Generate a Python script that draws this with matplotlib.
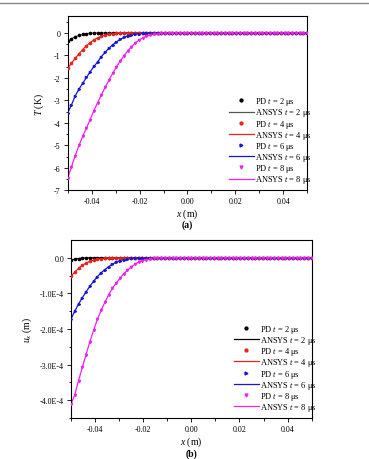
import numpy as np
import matplotlib.pyplot as plt
from matplotlib.lines import Line2D

plt.rcParams['font.family'] = ['Liberation Serif', 'DejaVu Serif']
plt.rcParams['mathtext.fontset'] = 'custom'
plt.rcParams['mathtext.it'] = 'Liberation Serif:italic'
plt.rcParams['mathtext.rm'] = 'Liberation Serif'
plt.rcParams['axes.unicode_minus'] = False

# grid of PD nodes along x (m)
n_pts = 65
x = np.linspace(-0.05, 0.05, n_pts)

# temperature T (K); the rest of each series is 0
T_2us = [-0.38, -0.26, -0.17, -0.11, -0.06, -0.035, -0.018, -0.008, -0.003]
T_4us = [-1.55, -1.35, -1.13, -0.93, -0.74, -0.57, -0.43, -0.31, -0.22, -0.15,
         -0.10, -0.06, -0.035, -0.02, -0.01]
T_6us = [-3.55, -3.2, -2.8, -2.5, -2.24, -1.98, -1.73, -1.49, -1.29, -1.05,
         -0.86, -0.68, -0.53, -0.40, -0.29, -0.20, -0.13, -0.08, -0.05, -0.03, -0.01]
T_8us = [-6.45, -5.95, -5.45, -5.0, -4.6, -4.22, -3.85, -3.45, -3.1, -2.75,
         -2.42, -2.1, -1.8, -1.52, -1.26, -1.02, -0.81, -0.62, -0.46, -0.33,
         -0.23, -0.15, -0.1, -0.06, -0.035, -0.02, -0.01]

# displacement u_x (1e-4 m)
u_2us = [-0.07, -0.04, -0.02, -0.01, -0.004]
u_4us = [-0.52, -0.40, -0.30, -0.21, -0.15, -0.10, -0.065, -0.04, -0.025, -0.012, -0.005]
u_6us = [-1.72, -1.50, -1.30, -1.12, -0.96, -0.80, -0.66, -0.53, -0.42, -0.33,
         -0.25, -0.18, -0.12, -0.08, -0.05, -0.03, -0.015, -0.005]
u_8us = [-4.11, -3.85, -3.45, -3.08, -2.72, -2.36, -2.04, -1.73, -1.48, -1.25,
         -1.04, -0.86, -0.71, -0.58, -0.45, -0.35, -0.26, -0.18, -0.12, -0.08,
         -0.05, -0.03, -0.015, -0.005]

times = [2, 4, 6, 8]
colors = ['black', '#e8231f', '#1515d8', '#f020f0']
markers = ['o', 'o', '>', 'v']

x_ticks = [-0.04, -0.02, 0.00, 0.02, 0.04]
x_ticklabels = ['-0.04', '-0.02', '0.00', '0.02', '0.04']
T_ticks = [0, -1, -2, -3, -4, -5, -6, -7]
u_ticks = [0.0, -1e-4, -2e-4, -3e-4, -4e-4]
u_ticklabels = ['0.0', '-1.0E-4', '-2.0E-4', '-3.0E-4', '-4.0E-4']


def pad(vals, scale=1.0):
    v = np.zeros(n_pts)
    v[:len(vals)] = np.array(vals) * scale
    return v


def draw(ax, series, line_colors):
    for i in range(4):
        y = series[i]
        ax.plot(x, y, color=line_colors[i], lw=0.9, zorder=2,
                label='ANSYS $t$ = {} μs'.format(times[i]))
        ax.plot(x, y, ls='none', marker=markers[i], ms=1.6, color=colors[i],
                mec=colors[i], zorder=3, label='PD $t$ = {} μs'.format(times[i]))
    h, l = ax.get_legend_handles_labels()
    order = [1, 0, 3, 2, 5, 4, 7, 6]
    ax.legend([h[k] for k in order], [l[k] for k in order], loc='lower right',
              bbox_to_anchor=(1.04, 0.0), frameon=False, fontsize=6,
              handlelength=3.0, handletextpad=0.15, labelspacing=-0.1,
              borderaxespad=0.2, markerscale=1.3)
    ax.set_xlim(-0.05, 0.05)
    ax.set_xticks(x_ticks)
    ax.set_xticklabels(x_ticklabels)
    ax.set_xticks([-0.05, -0.03, -0.01, 0.01, 0.03, 0.05], minor=True)
    ax.tick_params(which='both', direction='out', labelsize=5.8, pad=2,
                   width=0.6, top=False, right=False)
    ax.tick_params(which='major', length=3)
    ax.tick_params(which='minor', length=1.8)
    for s in ax.spines.values():
        s.set_linewidth(0.8)
    ax.set_xlabel('$x$ (m)', fontsize=7, labelpad=1)


fig = plt.figure(figsize=(3.69, 4.60), dpi=100)
fig.add_artist(Line2D([0, 1], [0.991, 0.991], color='#888888', lw=1.0))

ax1 = fig.add_axes([0.1835, 0.5837, 0.649, 0.3793])
T_series = [pad(T_2us), pad(T_4us), pad(T_6us), pad(T_8us)]
draw(ax1, T_series, ['#555555', '#e8231f', '#1515d8', '#f020f0'])
ax1.set_ylim(-7, 0.75)
ax1.set_yticks(T_ticks)
ax1.set_yticklabels([str(t) for t in T_ticks])
ax1.set_yticks(np.arange(-6.5, 0.6, 1.0), minor=True)
ax1.set_ylabel('$T$ (K)', fontsize=7, labelpad=6)
fig.text(0.508, 0.511, '(a)', ha='center', va='center', fontsize=7, fontweight='bold')

ax2 = fig.add_axes([0.1924, 0.0891, 0.6523, 0.387])
u_series = [pad(u_2us, 1e-4), pad(u_4us, 1e-4), pad(u_6us, 1e-4), pad(u_8us, 1e-4)]
draw(ax2, u_series, ['black', '#e8231f', '#1515d8', '#f020f0'])
ax2.set_ylim(-4.5e-4, 0.5e-4)
ax2.set_yticks(u_ticks)
ax2.set_yticklabels(u_ticklabels)
ax2.set_yticks([-4.5e-4, -3.5e-4, -2.5e-4, -1.5e-4, -0.5e-4], minor=True)
ax2.set_ylabel('$u_x$ (m)', fontsize=7, labelpad=4)
fig.text(0.518, 0.013, '(b)', ha='center', va='center', fontsize=7, fontweight='bold')

fig.savefig('out.png', dpi=100)
